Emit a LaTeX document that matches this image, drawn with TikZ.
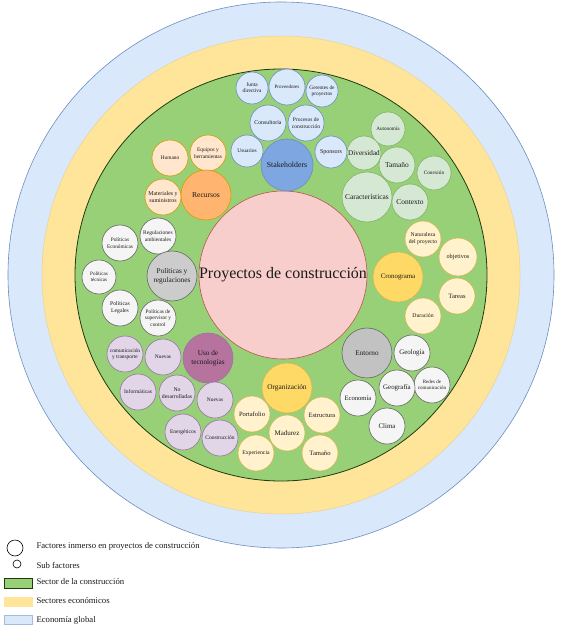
\documentclass[tikz,border=0pt]{standalone}
\usepackage{fontspec}
\setmainfont{Liberation Serif}
\definecolor{cBlue}{HTML}{DAE8FC}
\definecolor{cBlueS}{HTML}{6C8EBF}
\definecolor{cRing}{HTML}{FFE599}
\definecolor{cRingS}{HTML}{D6B656}
\definecolor{cGreen}{HTML}{97D077}
\definecolor{cGreenS}{HTML}{1E3A10}
\definecolor{cPink}{HTML}{F8CECC}
\definecolor{cPinkS}{HTML}{B85450}
\definecolor{cStake}{HTML}{7EA6E0}
\definecolor{cLGreen}{HTML}{D5E8D4}
\definecolor{cLGreenS}{HTML}{82B366}
\definecolor{cPeach}{HTML}{FFE6CC}
\definecolor{cPeachS}{HTML}{D79B00}
\definecolor{cOrange}{HTML}{FFB570}
\definecolor{cGrayL}{HTML}{F5F5F5}
\definecolor{cGrayS}{HTML}{666666}
\definecolor{cGrayM}{HTML}{CCCCCC}
\definecolor{cGrayE}{HTML}{C2C2C2}
\definecolor{cPurL}{HTML}{E1D5E7}
\definecolor{cPurS}{HTML}{9673A6}
\definecolor{cPurM}{HTML}{B5739D}
\definecolor{cYelM}{HTML}{FFD966}
\definecolor{cYelL}{HTML}{FFF2CC}
\definecolor{cText}{HTML}{1A1A1A}
\tikzset{
  bub/.style={circle, draw, line width=0.6bp, inner sep=0pt, align=center, text=cText},
  rr/.style={minimum size=2*#1bp},
  f/.style 2 args={font=\fontsize{#1bp}{#2bp}\selectfont},
  gst/.style={bub, fill=cBlue, draw=cBlueS},
  gca/.style={bub, fill=cLGreen, draw=cLGreenS},
  gre/.style={bub, fill=cPeach, draw=cPeachS},
  gpo/.style={bub, fill=cGrayL, draw=cGrayS},
  gte/.style={bub, fill=cPurL, draw=cPurS},
  gye/.style={bub, fill=cYelL, draw=cRingS},
  legtext/.style={anchor=west, f={8.7}{10}, text=cText},
  legbox/.style={line width=0.6bp},
}
\begin{document}
\begin{tikzpicture}[x=1bp,y=-1bp]
\useasboundingbox[fill=white] (0,0) rectangle (562,629);
% rings
\coordinate (ctr) at (281,275);
\fill[cBlue, draw=cBlueS, line width=0.6bp] (ctr) circle (273bp);
\fill[cRing, draw=cRingS!60, line width=0.5bp] (ctr) circle (239bp);
\fill[cGreen, draw=cGreenS, line width=0.8bp] (ctr) circle (206bp);
% center
\node[bub, fill=cPink, draw=cPinkS, rr=84, f={16}{18}] (proy) at (283,275) {Proyectos de construcción};
% Stakeholders
\node[gst, rr=16, f={5.4}{6.2}] (jd) at (252,88) {Junta\\directiva};
\node[gst, rr=18, f={5}{6}] (prov) at (287,87) {Proveedores};
\node[gst, rr=16, f={5.3}{6.2}] (ger) at (322,91) {Gerentes de\\proyectos};
\node[gst, rr=18, f={5.8}{6.6}] (cons) at (268,123) {Consultoría};
\node[gst, rr=18, f={5.5}{6.6}] (proc) at (306,123) {Procesos de\\construcción};
\node[gst, rr=16, f={5.4}{6.2}] (usu) at (247,151) {Usuarios};
\node[gst, rr=16, f={6}{7}] (spo) at (331,152) {Sponsors};
\node[gst, fill=cStake, rr=26, f={7.8}{9}] (stake) at (287,165) {Stakeholders};
% Caracteristicas
\node[gca, rr=17, f={5.2}{6}] (aut) at (388,129) {Autonomía};
\node[gca, rr=17, f={7.2}{8}] (div) at (364,153) {Diversidad};
\node[gca, rr=18, f={7.4}{8.4}] (tam) at (397,165) {Tamaño};
\node[gca, rr=17, f={5.2}{6}] (con) at (434,173) {Conexión};
\node[gca, rr=25, f={7.4}{8.4}] (car) at (367,197) {Características};
\node[gca, rr=18, f={7.4}{8.4}] (ctx) at (410,202) {Contexto};
% Recursos
\node[gre, rr=18, f={5.4}{6.3}] (hum) at (170,158) {Humano};
\node[gre, rr=18, f={5.4}{6.5}] (equ) at (208,153) {Equipos y\\herramientas};
\node[gre, rr=18, f={5.9}{7}] (mat) at (163,197) {Materiales y\\suministros};
\node[gre, fill=cOrange, rr=25, f={7.6}{8.6}] (rec) at (206,195) {Recursos};
% Politicas
\node[gpo, rr=18, f={5.5}{6.6}] (reg) at (158,236) {Regulaciones\\ambientales};
\node[gpo, rr=18, f={5.3}{6.5}] (pec) at (120,243) {Políticas\\Económicas};
\node[gpo, rr=17, f={5.1}{6.4}] (pte) at (99,277) {Políticas\\técnicas};
\node[gpo, fill=cGrayM, rr=25, f={7.3}{8.6}] (pyr) at (172,276) {Políticas y\\regulaciones};
\node[gpo, rr=18, f={5.7}{6.8}] (ple) at (120,308) {Políticas\\Legales};
\node[gpo, rr=18, f={5.3}{6.3}] (psc) at (158,318) {Políticas de\\supervisor y\\control};
% Tecnologias
\node[gte, rr=18, f={5.4}{6.5}] (com) at (125,354) {comunicación\\y transporte};
\node[gte, rr=18, f={5.4}{6.4}] (nu1) at (163,357) {Nuevas};
\node[gte, fill=cPurM, rr=25, f={7.3}{8.6}] (uso) at (208,358) {Uso de\\tecnologías};
\node[gte, rr=18, f={5.5}{6.5}] (inf) at (138,392) {Informáticas};
\node[gte, rr=18, f={5.7}{6.8}] (nod) at (177,393) {No\\desarrolladas};
\node[gte, rr=18, f={5.4}{6.4}] (nu2) at (215,400) {Nuevas};
\node[gte, rr=18, f={5.5}{6.5}] (ene) at (183,432) {Energéticos};
\node[gte, rr=18, f={5.5}{6.5}] (cst) at (220,438) {Construcción};
% Organizacion
\node[gye, fill=cYelM, rr=25, f={7.3}{8.4}] (org) at (287,388) {Organización};
\node[gye, rr=18, f={6.5}{7.5}] (por) at (252,414) {Portafolio};
\node[gye, rr=18, f={6.5}{7.5}] (est) at (322,415) {Estructura};
\node[gye, rr=18, f={7}{8}] (mad) at (287,433) {Madurez};
\node[gye, rr=18, f={5.7}{6.7}] (exp) at (256,453) {Experiencia};
\node[gye, rr=18, f={6.6}{7.6}] (tmo) at (320,453) {Tamaño};
% Entorno
\node[gpo, fill=cGrayE, rr=25, f={7.2}{8.2}] (ent) at (367,353) {Entorno};
\node[gpo, rr=18, f={6.9}{7.9}] (geol) at (412,353) {Geología};
\node[gpo, rr=18, f={5}{6}] (red) at (432,385) {Redes de\\comunicación};
\node[gpo, rr=18, f={6.9}{7.9}] (geog) at (397,388) {Geografía};
\node[gpo, rr=18, f={6.6}{7.6}] (eco) at (358,398) {Economía};
\node[gpo, rr=18, f={6.9}{7.9}] (cli) at (387,426) {Clima};
% Cronograma
\node[gye, rr=18, f={5.7}{6.8}] (nat) at (423,239) {Naturaleza\\del proyecto};
\node[gye, rr=19, f={6.2}{7.2}] (obj) at (458,257) {objetivos};
\node[gye, fill=cYelM, rr=25, f={6.9}{8}] (cro) at (398,277) {Cronograma};
\node[gye, rr=18, f={6.6}{7.6}] (tar) at (457,296) {Tareas};
\node[gye, rr=18, f={5.7}{6.7}] (dur) at (423,316) {Duración};
% Legend
\node[circle, draw=black, line width=0.6bp, fill=white, minimum size=16bp, inner sep=0pt] (lg1) at (15,548) {};
\node[circle, draw=black, line width=0.6bp, fill=white, minimum size=8bp, inner sep=0pt] (lg2) at (17,564) {};
\node[legtext] (lt1) at (33,546) {Factores inmerso en proyectos de construcción};
\node[legtext] (lt2) at (33,565) {Sub factores};
\node[legbox, draw=cGreenS, fill=cGreen, minimum width=28bp, minimum height=10bp, inner sep=0pt] (lb3) at (18,583) {};
\node[legtext] (lt3) at (33,582) {Sector de la construcción};
\node[legbox, draw=cRing, fill=cRing, minimum width=28bp, minimum height=9bp, inner sep=0pt] (lb4) at (18,602) {};
\node[legtext] (lt4) at (33,601) {Sectores económicos};
\node[legbox, draw=cBlueS!60, fill=cBlue, minimum width=28bp, minimum height=9bp, inner sep=0pt] (lb5) at (18,620) {};
\node[legtext] (lt5) at (33,620) {Economía global};
\end{tikzpicture}
\end{document}
